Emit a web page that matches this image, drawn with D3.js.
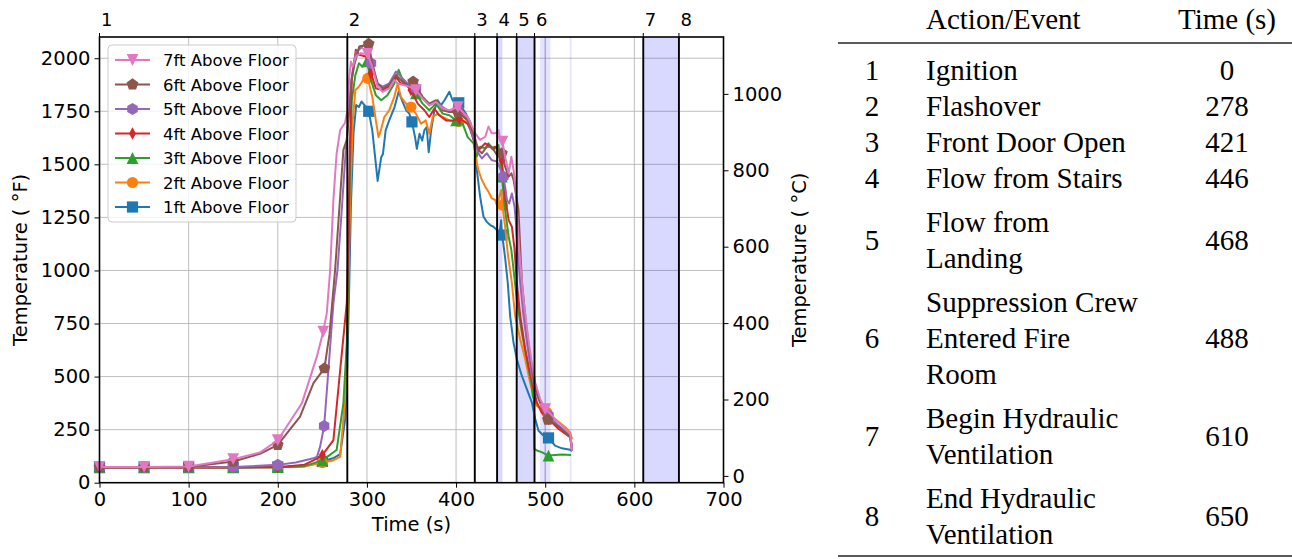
<!DOCTYPE html>
<html><head><meta charset="utf-8">
<script src="https://cdn.jsdelivr.net/npm/d3@7"></script>
<style>body{margin:0;background:#fff;} svg{display:block;}</style>
</head><body><svg id="c" width="1292" height="559"></svg>
<script>
// ---------------- DATA ----------------
const seriesNames = ["1ft Above Floor","2ft Above Floor","3ft Above Floor","4ft Above Floor","5ft Above Floor","6ft Above Floor","7ft Above Floor"];
// [time (s), temperature (°F)]
const s1ft = [[0,73],[50,73],[100,73],[150,72],[200,74],[230,78],[250,100],[262,115],[270,135],[275.5,296],[278,550],[280,900],[282,1300],[285,1650],[288,1780],[291,1770],[294,1796],[298,1775],[302,1750],[306,1660],[310,1502],[312,1422],[316,1533],[318,1549],[321,1660],[325,1707],[331,1770],[335.6,1842],[340,1794],[344,1755],[347.6,1739],[350.5,1700],[354,1628],[356,1573],[359,1644],[362,1612],[364.4,1660],[367,1676],[369.3,1557],[372,1660],[375.7,1755],[379.4,1802],[383,1778],[387,1802],[392.5,1842],[396,1802],[400,1794],[403,1790],[411,1739],[416,1700],[419.6,1630],[423.3,1473],[427,1347],[430.8,1253],[434.5,1229],[438.3,1214],[442,1206],[445.8,1190],[448.4,1159],[450.6,1237],[451.4,1167],[453,1127],[455,1060],[458,941],[460.7,784],[464.5,659],[468.2,581],[473.8,503],[479.4,441],[485,378],[488.8,300],[492.5,245],[498,222],[503.7,211],[511,175],[518.7,162],[528,155],[530,148]];
const s2ft = [[0,73],[50,73],[100,73],[150,72],[200,73],[230,76],[250,95],[262,105],[270,123],[276.6,453],[279,900],[281,1300],[284,1700],[287,1850],[291,1866],[296,1900],[301,1905],[306,1818],[310,1707],[313,1628],[316,1668],[319.5,1723],[325,1755],[330.7,1818],[334.5,1881],[338,1818],[343.8,1786],[349.4,1770],[355,1739],[360.7,1691],[366,1707],[370,1644],[373.8,1723],[379.4,1739],[385,1723],[392.5,1707],[398,1699],[402.7,1702],[407.5,1707],[413,1699],[416,1690],[419.6,1646],[423.3,1505],[425,1473],[429,1426],[432.7,1395],[436.4,1371],[440,1340],[444,1332],[445.8,1308],[449.5,1363],[450.6,1379],[452,1308],[455,1206],[458,1080],[462.6,941],[466.3,784],[472,675],[477.6,581],[483,472],[487,409],[490.7,362],[496,347],[501.9,331],[511,300],[522.5,261],[528,237],[530,205]];
const s3ft = [[0,72],[50,72],[100,72],[150,72],[200,73],[230,78],[250,105],[266,154],[273.6,374],[277.4,660],[279,1000],[281,1500],[283,1800],[287,1920],[291,1976],[295,1960],[300,1985],[304.5,1897],[310,1826],[316,1802],[323,1826],[330.7,1881],[335.6,1945],[340,1897],[347.6,1858],[355,1834],[362.5,1786],[370,1755],[377.5,1786],[385,1739],[392.5,1731],[400,1707],[407.5,1691],[413,1628],[419.6,1599],[423,1536],[427,1583],[432.7,1575],[436.4,1599],[442,1568],[447.6,1591],[451.4,1442],[455,1285],[459,1159],[462,1097],[464.5,1003],[468.2,862],[473.8,706],[479.4,581],[484.3,472],[486,409],[487.3,394],[487.8,159],[490.7,152],[496,144],[503.7,128],[518.7,133],[529,131]];
const s4ft = [[0,72],[50,72],[100,72],[150,72],[200,73],[230,85],[240,105],[250,130],[262.4,201],[270,531],[277.4,847],[279,1100],[281,1600],[283,1900],[287.6,2040],[291,2016],[299,2008],[304.5,1929],[310,1858],[317.6,1850],[325,1866],[332.6,1913],[338,1881],[343.8,1881],[349.4,1850],[357,1786],[364.4,1755],[370,1723],[375.7,1763],[381,1731],[388.8,1707],[396,1707],[403.7,1715],[413,1691],[416,1662],[419.6,1615],[423,1583],[427,1575],[432.7,1599],[436.4,1591],[440,1575],[444,1583],[447.6,1568],[451.4,1520],[455,1347],[459,1237],[462.6,1206],[465.6,1100],[468.2,941],[472,784],[477.6,628],[482,534],[487,441],[490.7,378],[496,331],[503.7,300],[515,253],[528,214],[530,175]];
const s5ft = [[0,73],[50,73],[100,73],[150,74],[200,84],[220,95],[240,115],[244,123],[247.5,170],[252,267],[256.8,531],[262.4,846],[267,1003],[272,1300],[276,1550],[279,1700],[282,1880],[285,1970],[288,2030],[293,2047],[297,2063],[304.5,1976],[312,1881],[317.6,1866],[325,1881],[332.6,1937],[340,1905],[347.6,1873],[355,1858],[362.5,1810],[370,1778],[377.5,1794],[385,1770],[392.5,1747],[402,1755],[413,1715],[417.7,1646],[425,1552],[429,1528],[434.5,1552],[440,1520],[445.8,1513],[449.5,1481],[453,1442],[455,1395],[457,1332],[459.6,1316],[462.6,1363],[465.6,1300],[467.5,1206],[469,1097],[472,941],[475.7,784],[480.6,628],[485,503],[489.5,425],[496,362],[503.7,316],[515,269],[528,222],[530,160]];
const s6ft = [[0,73],[50,73],[100,74],[150,100],[180,136],[200,178],[225,311],[240,469],[252.3,539],[258,700],[264.3,1003],[270,1350],[273.6,1568],[277.4,1615],[280,1750],[283,1900],[285.8,1968],[291.4,2055],[296,2060],[302,2068],[306,1976],[312,1881],[317.6,1858],[325,1873],[332.6,1921],[340,1889],[347.6,1866],[351.8,1890],[362.5,1818],[370,1786],[377.5,1802],[385,1755],[392.5,1747],[402,1747],[413,1707],[419.6,1646],[425,1568],[429,1552],[434.5,1583],[440,1583],[445.8,1544],[451.4,1552],[455,1489],[459,1442],[462,1458],[464.5,1426],[467,1363],[470,1285],[472.5,1060],[474,941],[477.6,784],[482,628],[487,487],[491.8,409],[497,347],[503,297],[511,277],[520.6,245],[528,214],[530,150]];
const s7ft = [[0,74],[50,74],[100,76],[150,111],[180,142],[200,200],[227,374],[243.8,594],[251,712],[255,800],[258.7,1000],[262.4,1333],[266,1550],[270,1662],[275.5,1696],[278,1750],[280,1900],[282,1984],[284,1960],[287.6,2008],[293,2024],[300.7,2020],[306,1960],[312,1866],[317.6,1842],[325,1858],[330.7,1897],[334.5,1881],[342,1873],[347.6,1866],[355,1850],[362.5,1810],[370,1778],[377.5,1794],[385,1763],[392.5,1755],[402,1770],[413,1723],[421.4,1646],[427,1615],[432.7,1630],[436.4,1678],[440,1646],[444,1646],[447.6,1662],[449.5,1615],[452,1607],[455,1536],[459,1458],[462,1536],[464.5,1473],[467,1379],[469.3,1206],[470.8,1097],[475.7,862],[480.6,691],[484.3,581],[488.8,472],[494.4,394],[500,347],[504.5,331],[511,300],[520.6,261],[528,230],[530,150]];

const markerTimes = [0,50,100,150,200,250,300,350,400,450,500];
const xTicks = [0,100,200,300,400,500,600,700];
const yTicksF = [0,250,500,750,1000,1250,1500,1750,2000];
const yTicksC = [0,200,400,600,800,1000];

const eventNums = ["1","2","3","4","5","6","7","8"];
const eventTimes = [0,278,421,446,468,488,610,650];
const eventLabels = [["Ignition"],["Flashover"],["Front Door Open"],["Flow from Stairs"],["Flow from","Landing"],["Suppression Crew","Entered Fire","Room"],["Begin Hydraulic","Ventilation"],["End Hydraulic","Ventilation"]];
// shaded intervals [start, end] (s)
const spanStart = [446,468,494,499,527.5,610];
const spanEnd   = [452,488,506,501,529.5,650];
const spanAlpha = [0.15,0.15,0.10,0.10,0.10,0.15];

// ---------------- STYLE ----------------
const seriesData = [s1ft,s2ft,s3ft,s4ft,s5ft,s6ft,s7ft];
const colors = ["#1f77b4","#ff7f0e","#2ca02c","#d62728","#9467bd","#8c564b","#e377c2"];
const markerKinds = ["square","circle","tri-up","thin-diamond","hexagon","pentagon","tri-down"];
const markerLag = 2; // markers sit on the data point nearest each marker time + lag

const svg = d3.select("#c");
const L=99.5, R=723.5, T=37, B=482.7;
const x = d3.scaleLinear().domain([0,700]).range([L,R]);
const y = d3.scaleLinear().domain([0,2100]).range([B,T]);
const yC = d3.scaleLinear().domain([(0-32)/1.8,(2100-32)/1.8]).range([B,T]);
const FONT = "DejaVu Sans, sans-serif";

function markerPath(kind, r){
  const poly = pts => "M"+pts.map(p=>p[0].toFixed(2)+","+p[1].toFixed(2)).join("L")+"Z";
  const reg = (n, rad, rot) => d3.range(n).map(i=>{const a=rot+i*2*Math.PI/n; return [rad*Math.sin(a), -rad*Math.cos(a)];});
  switch(kind){
    case "square": return poly([[-r,-r],[r,-r],[r,r],[-r,r]]);
    case "circle": return d3.symbol(d3.symbolCircle, Math.PI*r*r)();
    case "tri-up": return poly([[0,-r*1.05],[r*1.05,r*1.05],[-r*1.05,r*1.05]]);
    case "tri-down": return poly([[0,r*1.05],[r*1.05,-r*1.05],[-r*1.05,-r*1.05]]);
    case "thin-diamond": return poly([[0,-r*1.1],[r*0.62,0],[0,r*1.1],[-r*0.62,0]]);
    case "hexagon": return poly(reg(6, r*1.08, 0));
    case "pentagon": return poly(reg(5, r*1.1, 0));
  }
}

// grid
const g = svg.append("g");
g.selectAll(".gx").data(xTicks.filter(t=>t>0&&t<700)).join("line")
  .attr("x1",d=>x(d)).attr("x2",d=>x(d)).attr("y1",T).attr("y2",B)
  .attr("stroke","#b0b0b0").attr("stroke-width",1).attr("opacity",0.8);
g.selectAll(".gy").data(yTicksF.filter(t=>t>0)).join("line")
  .attr("x1",L).attr("x2",R).attr("y1",d=>y(d)).attr("y2",d=>y(d))
  .attr("stroke","#b0b0b0").attr("stroke-width",1).attr("opacity",0.8);

// shaded spans
g.selectAll(".span").data(spanStart.map((s,i)=>({s, e:spanEnd[i], a:spanAlpha[i]}))).join("rect")
  .attr("x",d=>x(d.s)).attr("width",d=>x(d.e)-x(d.s)).attr("y",T).attr("height",B-T)
  .attr("fill","#0000ff").attr("fill-opacity",d=>d.a);

// series
const line = d3.line().x(d=>x(d[0])).y(d=>y(d[1]));
seriesData.forEach((sd,i)=>{
  const sg = svg.append("g");
  sg.append("path").datum(sd).attr("d",line).attr("fill","none")
    .attr("stroke",colors[i]).attr("stroke-width",2).attr("stroke-linejoin","round");
  const mk = markerTimes.map(mt=>{
    let best=null, bd=1e9;
    sd.forEach(p=>{const dd=Math.abs(p[0]-(mt+markerLag)); if(dd<bd){bd=dd;best=p;}});
    return bd<=6?best:null;
  }).filter(Boolean);
  sg.selectAll("path.m").data(mk).join("path").attr("class","m")
    .attr("d",markerPath(markerKinds[i],5.6))
    .attr("transform",d=>`translate(${x(d[0])},${y(d[1])})`)
    .attr("fill",colors[i]);
});

// event lines
svg.selectAll(".ev").data(eventTimes.filter(t=>t>0)).join("line")
  .attr("x1",d=>x(d)).attr("x2",d=>x(d)).attr("y1",T).attr("y2",B)
  .attr("stroke","#000").attr("stroke-width",1.9);

// axes
const axB = svg.append("g").attr("transform",`translate(0,${B})`)
  .call(d3.axisBottom(x).tickValues(xTicks).tickSize(5).tickPadding(4).tickFormat(d3.format("d")));
const axL = svg.append("g").attr("transform",`translate(${L},0)`)
  .call(d3.axisLeft(y).tickValues(yTicksF).tickSize(5).tickPadding(4).tickFormat(d3.format("d")));
const axR = svg.append("g").attr("transform",`translate(${R},0)`)
  .call(d3.axisRight(yC).tickValues(yTicksC).tickSize(5).tickPadding(4).tickFormat(d3.format("d")));
[axB,axL,axR].forEach(a=>{
  a.select(".domain").remove();
  a.selectAll(".tick line").attr("stroke","#000").attr("stroke-width",1);
  a.selectAll(".tick text").attr("font-family",FONT).attr("font-size","19.5px").attr("fill","#000");
});
// top event number labels
svg.selectAll(".evl").data(eventNums).join("text")
  .attr("x",(d,i)=>x(eventTimes[i])+1.5).attr("y",25.5)
  .attr("font-family",FONT).attr("font-size","18px").attr("text-anchor","start").text(d=>d);
svg.selectAll(".evt").data(eventTimes).join("line")
  .attr("x1",d=>x(d)).attr("x2",d=>x(d)).attr("y1",T-4).attr("y2",T).attr("stroke","#000").attr("stroke-width",1);

// frame
svg.append("rect").attr("x",L).attr("y",T).attr("width",R-L).attr("height",B-T)
  .attr("fill","none").attr("stroke","#000").attr("stroke-width",1.6);

// axis labels
svg.append("text").attr("x",(L+R)/2).attr("y",531).attr("text-anchor","middle")
  .attr("font-family",FONT).attr("font-size","19.5px").text("Time (s)");
svg.append("text").attr("transform",`translate(27,${(T+B)/2}) rotate(-90)`).attr("text-anchor","middle")
  .attr("font-family",FONT).attr("font-size","19.5px").text("Temperature ( °F)");
svg.append("text").attr("transform",`translate(806,${(T+B)/2}) rotate(-90)`).attr("text-anchor","middle")
  .attr("font-family",FONT).attr("font-size","19.5px").text("Temperature ( °C)");

// legend
const lg = svg.append("g");
lg.append("rect").attr("x",108).attr("y",45).attr("width",188).attr("height",177).attr("rx",4)
  .attr("fill","#fff").attr("fill-opacity",0.8).attr("stroke","#cccccc").attr("stroke-width",1);
const order = [6,5,4,3,2,1,0];
order.forEach((si,k)=>{
  const yy = 60 + k*24.5;
  lg.append("line").attr("x1",115).attr("x2",150).attr("y1",yy).attr("y2",yy)
    .attr("stroke",colors[si]).attr("stroke-width",2);
  lg.append("path").attr("d",markerPath(markerKinds[si],5.6)).attr("transform",`translate(132.5,${yy})`).attr("fill",colors[si]);
  lg.append("text").attr("x",163).attr("y",yy+6).attr("font-family",FONT).attr("font-size","16.5px").text(seriesNames[si]);
});

// ---------------- TABLE ----------------
const TF = "Liberation Serif, Times New Roman, serif";
const tb = svg.append("g");
const numX = 872, labX = 926, timeX = 1227;
tb.append("text").attr("x",labX).attr("y",29).attr("font-family",TF).attr("font-size","29px").text("Action/Event");
tb.append("text").attr("x",timeX).attr("y",29).attr("text-anchor","middle").attr("font-family",TF).attr("font-size","29px").text("Time (s)");
tb.append("line").attr("x1",838).attr("x2",1292).attr("y1",43).attr("y2",43).attr("stroke","#222").attr("stroke-width",1.6);
let cur = 70, prevMulti = false;
eventLabels.forEach((lines,i)=>{
  const multi = lines.length>1;
  if(i>0) cur += 36 + ((multi||prevMulti)?8:0);
  const ys = lines.map((_,j)=>cur + j*36);
  lines.forEach((t,j)=>tb.append("text").attr("x",labX).attr("y",ys[j]+10).attr("font-family",TF).attr("font-size","29px").text(t));
  const mid = d3.mean(ys);
  tb.append("text").attr("x",numX).attr("y",mid+10).attr("text-anchor","middle").attr("font-family",TF).attr("font-size","29px").text(eventNums[i]);
  tb.append("text").attr("x",timeX).attr("y",mid+10).attr("text-anchor","middle").attr("font-family",TF).attr("font-size","29px").text(String(eventTimes[i]));
  cur = ys[ys.length-1];
  prevMulti = multi;
});
tb.append("line").attr("x1",838).attr("x2",1292).attr("y1",556).attr("y2",556).attr("stroke","#222").attr("stroke-width",1.6);
</script></body></html>
